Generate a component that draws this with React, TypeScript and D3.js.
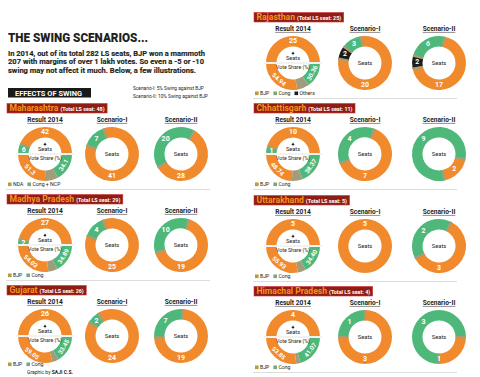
import React, { useEffect, useRef } from "react";
import * as d3 from "d3";

const W = 480;
const H = 377;

// ---------- DATA ----------
const titleText = "THE SWING SCENARIOS...";
const introLines = [
  "In 2014, out of its total 282 LS seats, BJP won a mammoth",
  "207 with margins of over 1 lakh votes. So even a -5 or -10",
  "swing may not affect it much. Below, a few illustrations.",
];
const sectionLabel = "EFFECTS OF SWING";
const scenarioNotes = ["Scenario-I: 5% Swing against BJP", "Scenario-II: 10% Swing against BJP"];
const columnTitles = ["Result 2014", "Scenario-I", "Scenario-II"];
const credit = "Graphic by ";
const creditName = "SAJI C.S.";

const states = ["Maharashtra", "Madhya Pradesh", "Gujarat", "Rajasthan", "Chhattisgarh", "Uttarakhand", "Himachal Pradesh"];
const totalSeats = [48, 29, 26, 25, 11, 5, 4];
const seats2014Bjp = [42, 27, 26, 25, 10, 5, 4];
const seats2014Cong = [6, 2, 0, 0, 1, 0, 0];
const voteShareBjp = ["51.3", "54.03", "59.05", "54.94", "48.74", "55.93", "53.85"];
const voteShareCong = ["34.1", "34.89", "33.45", "30.36", "38.37", "34.40", "41.07"];
const scen1Bjp = [41, 25, 24, 20, 7, 5, 3];
const scen1Cong = [7, 4, 2, 3, 4, 0, 1];
const scen1Others = [0, 0, 0, 2, 0, 0, 0];
const scen2Bjp = [28, 19, 19, 17, 2, 3, 1];
const scen2Cong = [20, 10, 7, 6, 9, 2, 3];
const scen2Others = [0, 0, 0, 2, 0, 0, 0];
const legendLabels = [
  ["NDA", "Cong + NCP"],
  ["BJP", "Cong"],
  ["BJP", "Cong"],
  ["BJP", "Cong", "Others"],
  ["BJP", "Cong"],
  ["BJP", "Cong"],
  ["BJP", "Cong"],
];

// ---------- LAYOUT / STYLE ----------
const stateCol = [0, 0, 0, 1, 1, 1, 1];
const stateCy = [154, 245, 336, 63, 154, 246, 337];
const colX0 = [8, 255];
const colCenters = [
  [45, 112, 181],
  [293, 365, 439],
];
const R_OUT = 27;
const R_IN = 16.5;
const FONT = "'Liberation Sans Narrow', Roboto, 'Open Sans', sans-serif";
const COLORS: Record<string, string> = {
  bjp: "#F08A2C",
  cong: "#4DB87A",
  oth: "#1c1c1c",
  voth: "#A09C7C",
};
const SEP = "#A39F78";
const LEGEND_COLORS = ["#B19E3E", "#78A488", "#1c1c1c"];
const HEADER_BG = "#8E1E14";
const HEADER_TXT = "#F7941D";
const DARK = "#231F20";

const deg = (d: number) => (d * Math.PI) / 180;
const arcGen = d3.arc<any>().innerRadius(R_IN).outerRadius(R_OUT);
const RM = (R_IN + R_OUT) / 2;

function containsAngle(a: any, target: number) {
  for (let n = -2; n <= 2; n++) {
    const t = target + n * 2 * Math.PI;
    if (t >= a.startAngle && t <= a.endAngle) return true;
  }
  return false;
}

function pos(theta: number, r: number) {
  return [Math.sin(theta) * r, -Math.cos(theta) * r];
}

function addSeparators(gg: any, arcs: any[]) {
  const nz = arcs.filter((a) => a.data.v > 0);
  if (nz.length < 2) return;
  nz.forEach((a) => {
    gg.append("path")
      .attr("d", arcGen({ startAngle: a.startAngle - deg(3), endAngle: a.startAngle + deg(3) }))
      .attr("fill", SEP);
  });
}

function scenarioDonut(g: any, cx: number, cy: number, bjp: number, oth: number, cong: number) {
  const total = bjp + oth + cong;
  const start = deg(135) - (bjp / total) * Math.PI;
  const items = [
    { k: "bjp", v: bjp },
    { k: "oth", v: oth },
    { k: "cong", v: cong },
  ].filter((d) => d.v > 0);
  const pie = d3
    .pie<any>()
    .sort(null)
    .value((d: any) => d.v)
    .startAngle(start)
    .endAngle(start + 2 * Math.PI);
  const arcs = pie(items);
  const gg = g.append("g").attr("transform", `translate(${cx},${cy})`);
  gg.selectAll("path.seg")
    .data(arcs)
    .join("path")
    .attr("class", "seg")
    .attr("d", arcGen)
    .attr("fill", (d: any) => COLORS[d.data.k]);
  addSeparators(gg, arcs);
  arcs.forEach((a: any) => {
    let theta: number;
    if (a.endAngle - a.startAngle > 2 * Math.PI - 1e-6) theta = 0;
    else if (a.data.k === "bjp" && containsAngle(a, Math.PI)) theta = Math.PI;
    else theta = (a.startAngle + a.endAngle) / 2;
    const [x, y] = pos(theta, RM);
    gg.append("text")
      .attr("x", x)
      .attr("y", y)
      .attr("text-anchor", "middle")
      .attr("dominant-baseline", "central")
      .attr("fill", "#fff")
      .attr("font-size", 7)
      .attr("font-weight", 700)
      .attr("font-family", FONT)
      .text(a.data.v);
  });
  gg.append("text")
    .attr("x", 0)
    .attr("y", 0)
    .attr("text-anchor", "middle")
    .attr("dominant-baseline", "central")
    .attr("fill", DARK)
    .attr("font-size", 5.8)
    .attr("font-family", FONT)
    .text("Seats");
}

function resultDonut(g: any, cx: number, cy: number, sB: number, sC: number, vB: string, vC: string) {
  const gg = g.append("g").attr("transform", `translate(${cx},${cy})`);
  const topItems = [
    { k: "cong", v: sC },
    { k: "bjp", v: sB },
  ];
  const topArcs = d3
    .pie<any>()
    .sort(null)
    .value((d: any) => d.v)
    .startAngle(-Math.PI / 2)
    .endAngle(Math.PI / 2)(topItems);
  const vb = +vB;
  const vc = +vC;
  const botItems = [
    { k: "cong", v: vc, t: vC },
    { k: "voth", v: 100 - vb - vc, t: "" },
    { k: "bjp", v: vb, t: vB },
  ];
  const botArcs = d3
    .pie<any>()
    .sort(null)
    .value((d: any) => d.v)
    .startAngle(Math.PI / 2)
    .endAngle((3 * Math.PI) / 2)(botItems);

  gg.selectAll("path.top")
    .data(topArcs.filter((a: any) => a.data.v > 0))
    .join("path")
    .attr("class", "top")
    .attr("d", arcGen)
    .attr("fill", (d: any) => COLORS[d.data.k]);
  gg.selectAll("path.bot")
    .data(botArcs)
    .join("path")
    .attr("class", "bot")
    .attr("d", arcGen)
    .attr("fill", (d: any) => COLORS[d.data.k]);
  addSeparators(gg, topArcs);

  topArcs
    .filter((a: any) => a.data.v > 0)
    .forEach((a: any) => {
      const theta = a.data.k === "bjp" && containsAngle(a, 0) ? 0 : (a.startAngle + a.endAngle) / 2;
      const [x, y] = pos(theta, RM);
      gg.append("text")
        .attr("x", x)
        .attr("y", y)
        .attr("text-anchor", "middle")
        .attr("dominant-baseline", "central")
        .attr("fill", "#fff")
        .attr("font-size", 7)
        .attr("font-weight", 700)
        .attr("font-family", FONT)
        .text(a.data.v);
    });
  botArcs
    .filter((a: any) => a.data.t)
    .forEach((a: any) => {
      const theta = (a.startAngle + a.endAngle) / 2;
      const [x, y] = pos(theta, RM);
      const rot = (theta * 180) / Math.PI - 180;
      gg.append("text")
        .attr("transform", `translate(${x},${y}) rotate(${rot})`)
        .attr("text-anchor", "middle")
        .attr("dominant-baseline", "central")
        .attr("fill", "#fff")
        .attr("font-size", 6.2)
        .attr("font-weight", 700)
        .attr("font-family", FONT)
        .text(a.data.t);
    });

  // divider
  gg.append("rect")
    .attr("x", -R_OUT - 2)
    .attr("y", -1)
    .attr("width", 2 * R_OUT + 4)
    .attr("height", 2)
    .attr("fill", "#fff");
  gg.append("line")
    .attr("x1", -R_OUT - 2)
    .attr("x2", R_OUT + 2)
    .attr("y1", 0)
    .attr("y2", 0)
    .attr("stroke", "#c9c9c9")
    .attr("stroke-width", 0.5);
  // arrow
  gg.append("path").attr("d", "M0,-11.5 L-1.6,-9 L1.6,-9 Z").attr("fill", DARK);
  gg.append("line").attr("x1", 0).attr("x2", 0).attr("y1", -9).attr("y2", -7.8).attr("stroke", DARK).attr("stroke-width", 0.6);
  gg.append("text")
    .attr("x", 0)
    .attr("y", -3.2)
    .attr("text-anchor", "middle")
    .attr("fill", DARK)
    .attr("font-size", 5.6)
    .attr("font-family", FONT)
    .text("Seats");
  gg.append("text")
    .attr("x", 0)
    .attr("y", 5.8)
    .attr("text-anchor", "middle")
    .attr("fill", DARK)
    .attr("font-size", 5.2)
    .attr("font-family", FONT)
    .text("Vote Share (%)");
}

function draw(svg: any) {
  svg.append("rect").attr("width", W).attr("height", H).attr("fill", "#fff");

  // Title & intro
  svg.append("text")
    .attr("x", 8)
    .attr("y", 42)
    .attr("font-size", 13)
    .attr("font-weight", 900)
    .attr("font-family", "Roboto, sans-serif")
    .attr("fill", DARK)
    .attr("textLength", 140)
    .attr("lengthAdjust", "spacingAndGlyphs")
    .text(titleText);
  const lineW = [197, 196, 188];
  introLines.forEach((l, i) => {
    svg.append("text")
      .attr("x", 8)
      .attr("y", 56 + i * 8.4)
      .attr("font-size", 7.8)
      .attr("font-weight", 700)
      .attr("font-family", "Roboto, sans-serif")
      .attr("fill", DARK)
      .attr("stroke", DARK)
      .attr("stroke-width", 0.15)
      .attr("textLength", lineW[i])
      .attr("lengthAdjust", "spacingAndGlyphs")
      .text(l);
  });
  svg.append("rect").attr("x", 8).attr("y", 88).attr("width", 83).attr("height", 9.5).attr("fill", "#1a1a1a");
  svg.append("text")
    .attr("x", 15)
    .attr("y", 95.6)
    .attr("font-size", 7.6)
    .attr("font-weight", 700)
    .attr("font-family", "Roboto, sans-serif")
    .attr("fill", "#fff")
    .attr("textLength", 67)
    .attr("lengthAdjust", "spacingAndGlyphs")
    .text(sectionLabel);
  scenarioNotes.forEach((n, i) => {
    svg.append("text")
      .attr("x", 133)
      .attr("y", 90 + i * 8)
      .attr("font-size", 4.8)
      .attr("font-family", FONT)
      .attr("fill", DARK)
      .text(n);
  });

  states.forEach((st, i) => {
    const col = stateCol[i];
    const x0 = colX0[col];
    const cy = stateCy[i];
    const centers = colCenters[col];
    const g = svg.append("g");

    // header box
    const hg = g.append("g");
    const nameT = hg.append("text")
      .attr("x", x0 + 1.5)
      .attr("y", cy - 43)
      .attr("font-size", 8.6)
      .attr("font-weight", 700)
      .attr("font-family", "Roboto, sans-serif")
      .attr("fill", HEADER_TXT)
      .text(st);
    const nw = (nameT.node() as SVGTextElement).getComputedTextLength();
    const subT = hg.append("text")
      .attr("x", x0 + 1.5 + nw + 2)
      .attr("y", cy - 43.2)
      .attr("font-size", 5.4)
      .attr("font-weight", 700)
      .attr("font-family", FONT)
      .attr("fill", "#fff")
      .text(`(Total LS seat: ${totalSeats[i]})`);
    const sw = (subT.node() as SVGTextElement).getComputedTextLength();
    hg.insert("rect", "text")
      .attr("x", x0 - 1)
      .attr("y", cy - 50.5)
      .attr("width", nw + sw + 7)
      .attr("height", 9.5)
      .attr("fill", HEADER_BG)
      .attr("stroke", "#D0343A")
      .attr("stroke-width", 0.6);

    // column titles
    columnTitles.forEach((t, j) => {
      const tt = g.append("text")
        .attr("x", centers[j])
        .attr("y", cy - 32)
        .attr("text-anchor", "middle")
        .attr("font-size", 6.6)
        .attr("font-weight", 700)
        .attr("font-family", FONT)
        .attr("fill", DARK)
        .text(t);
      const tw = (tt.node() as SVGTextElement).getComputedTextLength();
      g.append("line")
        .attr("x1", centers[j] - tw / 2)
        .attr("x2", centers[j] + tw / 2)
        .attr("y1", cy - 30.6)
        .attr("y2", cy - 30.6)
        .attr("stroke", DARK)
        .attr("stroke-width", 0.5);
    });

    resultDonut(g, centers[0], cy, seats2014Bjp[i], seats2014Cong[i], voteShareBjp[i], voteShareCong[i]);
    scenarioDonut(g, centers[1], cy, scen1Bjp[i], scen1Others[i], scen1Cong[i]);
    scenarioDonut(g, centers[2], cy, scen2Bjp[i], scen2Others[i], scen2Cong[i]);

    // legend
    const ly = i === 2 ? cy + 27 : cy + 29;
    let lx = x0;
    legendLabels[i].forEach((lab, j) => {
      g.append("rect")
        .attr("x", lx)
        .attr("y", ly - 0.5)
        .attr("width", 3.6)
        .attr("height", 3.6)
        .attr("fill", LEGEND_COLORS[j]);
      const lt = g.append("text")
        .attr("x", lx + 5)
        .attr("y", ly + 3.2)
        .attr("font-size", 5.2)
        .attr("font-family", FONT)
        .attr("fill", DARK)
        .text(lab);
      lx += 5 + (lt.node() as SVGTextElement).getComputedTextLength() + 4;
    });

    // separator
    if (i !== 2) {
      g.append("line")
        .attr("x1", x0 - 2)
        .attr("x2", x0 + 202)
        .attr("y1", cy + 35.5)
        .attr("y2", cy + 35.5)
        .attr("stroke", "#cfcfcf")
        .attr("stroke-width", 0.7);
    }
  });

  const cr = svg.append("text")
    .attr("x", 27)
    .attr("y", 373.5)
    .attr("font-size", 5)
    .attr("font-family", FONT)
    .attr("fill", DARK);
  cr.append("tspan").text(credit);
  cr.append("tspan").attr("font-weight", 700).text(creditName);
}

export default function App() {
  const ref = useRef<SVGSVGElement>(null);
  useEffect(() => {
    const svg = d3.select(ref.current);
    svg.selectAll("*").remove();
    draw(svg);
  }, []);
  return (
    <svg
      ref={ref}
      width={W}
      height={H}
      style={{ position: "absolute", left: 0, top: 0, background: "#fff" }}
    />
  );
}
